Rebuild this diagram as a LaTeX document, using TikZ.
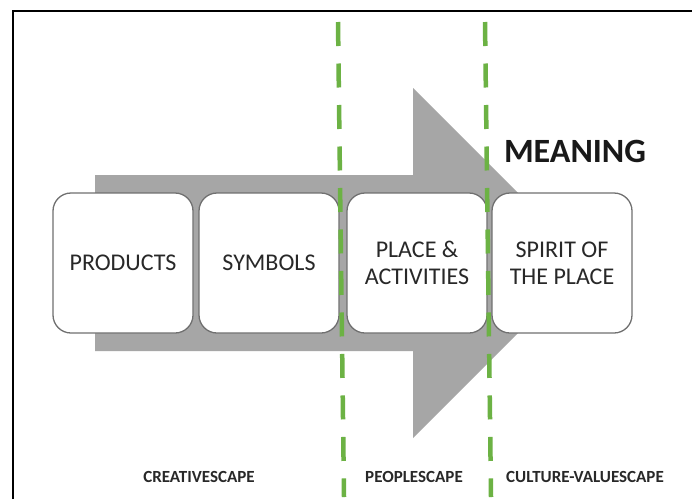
\documentclass[tikz,border=0pt]{standalone}
\usepackage{fontspec}
\setmainfont{Carlito}
\definecolor{arrowgray}{RGB}{166,166,166}
\definecolor{dashgreen}{RGB}{108,178,68}
\definecolor{boxline}{RGB}{112,112,112}
\definecolor{txt}{RGB}{40,40,40}
\begin{document}
\begin{tikzpicture}[x=1pt,y=-1pt,
  stagebox/.style={draw=boxline, line width=1.3pt, fill=white, rounded corners=18pt,
    minimum width=140pt, minimum height=140pt, inner sep=0pt, align=center,
    font=\fontsize{24}{27}\selectfont, text=txt},
  scapelabel/.style={font=\bfseries\fontsize{17}{20}\selectfont, text=txt, inner sep=0pt},
  phase/.style={draw=dashgreen, line width=4.5pt, dash pattern=on 24pt off 17.5pt}]
\useasboundingbox (0,0) rectangle (692,499);
\fill[white] (0,0) rectangle (692,499);
\draw[line width=2pt] (13,499) -- (13,11) -- (692,11);
% big arrow
\fill[arrowgray] (95,175) -- (413,175) -- (413,88) -- (588,263) -- (413,438) -- (413,351) -- (95,351) -- cycle;
% stage boxes
\node[stagebox] (products) at (123,263) {PRODUCTS};
\node[stagebox] (symbols) at (269,263) {SYMBOLS};
\node[stagebox] (place) at (417,263) {PLACE \&\\ACTIVITIES};
\node[stagebox] (spirit) at (562,263) {SPIRIT OF\\THE PLACE};
% phase separators
\coordinate (g1top) at (338,22);
\coordinate (g1bot) at (344,497);
\coordinate (g2top) at (485,22);
\coordinate (g2bot) at (491,497);
\draw[phase] (g1top) -- (g1bot);
\draw[phase] (g2top) -- (g2bot);
% labels
\node[font=\bfseries\fontsize{34}{40}\selectfont, text=black!90, inner sep=0pt] (meaning) at (575,151) {MEANING};
\node[scapelabel] (creative) at (199,477) {CREATIVESCAPE};
\node[scapelabel] (people) at (414,477) {PEOPLESCAPE};
\node[scapelabel] (culture) at (585,477) {CULTURE-VALUESCAPE};
\end{tikzpicture}
\end{document}
